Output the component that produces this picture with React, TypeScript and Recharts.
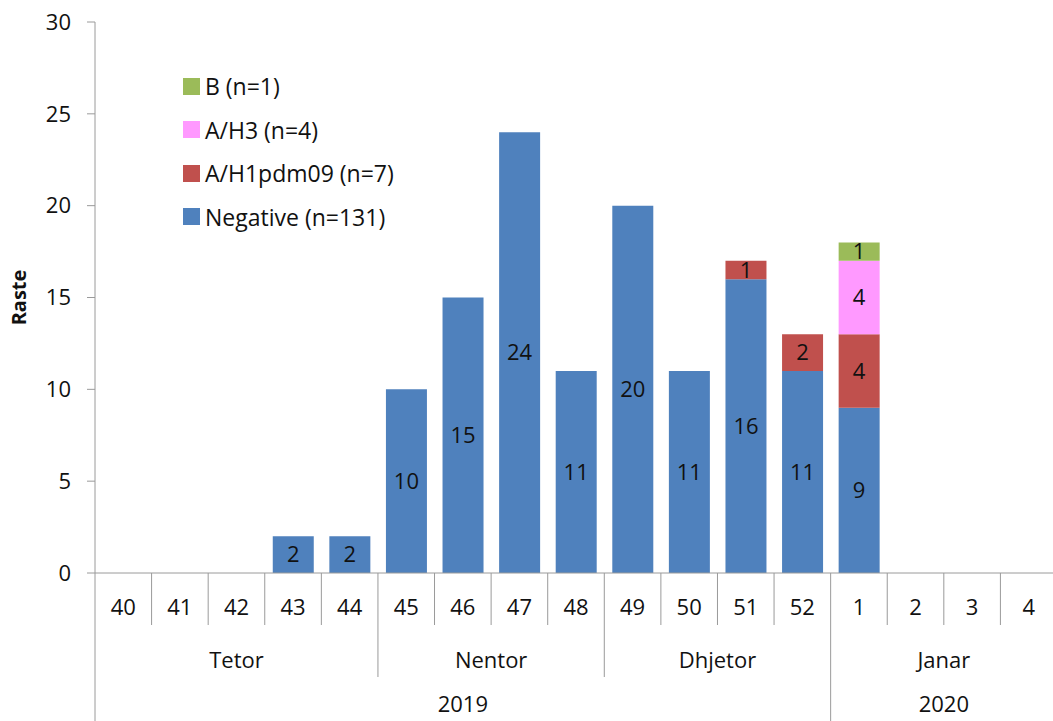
import React from 'react';
import { BarChart, Bar, XAxis, YAxis, LabelList } from 'recharts';

const weeks = ['40', '41', '42', '43', '44', '45', '46', '47', '48', '49', '50', '51', '52', '1', '2', '3', '4'];
const months = ['Tetor', 'Tetor', 'Tetor', 'Tetor', 'Tetor', 'Nentor', 'Nentor', 'Nentor', 'Nentor', 'Dhjetor', 'Dhjetor', 'Dhjetor', 'Dhjetor', 'Janar', 'Janar', 'Janar', 'Janar'];
const years = ['2019', '2019', '2019', '2019', '2019', '2019', '2019', '2019', '2019', '2019', '2019', '2019', '2019', '2020', '2020', '2020', '2020'];

const negative = [null, null, null, 2, 2, 10, 15, 24, 11, 20, 11, 16, 11, 9, null, null, null];
const h1pdm09 = [null, null, null, null, null, null, null, null, null, null, null, 1, 2, 4, null, null, null];
const h3 = [null, null, null, null, null, null, null, null, null, null, null, null, null, 4, null, null, null];
const bType = [null, null, null, null, null, null, null, null, null, null, null, null, null, 1, null, null, null];

const yTicks = [0, 5, 10, 15, 20, 25, 30];

const series = [
  { key: 'negative', name: 'Negative (n=131)', color: '#4F81BD' },
  { key: 'h1', name: 'A/H1pdm09 (n=7)', color: '#C0504D' },
  { key: 'h3', name: 'A/H3 (n=4)', color: '#FF99FF' },
  { key: 'b', name: 'B (n=1)', color: '#9BBB59' },
];

const data = weeks.map((w, i) => ({
  week: w,
  negative: negative[i],
  h1: h1pdm09[i],
  h3: h3[i],
  b: bType[i],
}));

const FONT = "'Open Sans', sans-serif";
const TEXT = '#111';
const GRID = '#9a9a9a';

const countRun = (arr: string[], start: number) => {
  let n = 0;
  while (start + n < arr.length && arr[start + n] === arr[start]) n++;
  return n;
};

const WeekTick = (props: any) => {
  const { x, y, payload } = props;
  const i: number = payload.index;
  const bw: number = (payload.offset || 0) * 2;
  const left = x - bw / 2;
  const yearStart = i === 0 || years[i] !== years[i - 1];
  const monthStart = i === 0 || months[i] !== months[i - 1];
  const len = yearStart ? 148 : monthStart ? 104 : 52;
  const isLast = i === weeks.length - 1;
  return (
    <g>
      <line x1={left} x2={left} y1={y} y2={y + len} stroke={GRID} strokeWidth={1} />
      {isLast && <line x1={left + bw} x2={left + bw} y1={y} y2={y + 148} stroke={GRID} strokeWidth={1} />}
      <text x={x} y={y + 34} dy="0.36em" textAnchor="middle" fontSize={22} fill={TEXT} fontFamily={FONT}>
        {payload.value}
      </text>
      {monthStart && (
        <text x={left + (countRun(months, i) * bw) / 2} y={y + 87} dy="0.36em" textAnchor="middle" fontSize={22} fill={TEXT} fontFamily={FONT}>
          {months[i]}
        </text>
      )}
      {yearStart && (
        <text x={left + (countRun(years, i) * bw) / 2} y={y + 131} dy="0.36em" textAnchor="middle" fontSize={22} fill={TEXT} fontFamily={FONT}>
          {years[i]}
        </text>
      )}
    </g>
  );
};

const fmt = (v: any) => (v ? v : '');

export default function App() {
  const legendItems = [...series].reverse();
  return (
    <div style={{ position: 'fixed', left: 0, top: 0, width: 1053, height: 721, overflow: 'hidden', background: '#fff', fontFamily: FONT }}>
      <BarChart width={1057} height={721} data={data} margin={{ top: 22, right: 0, bottom: 0, left: 0 }} barSize={41}>
        <XAxis
          dataKey="week"
          height={148}
          interval={0}
          tickSize={0}
          tickMargin={0}
          axisLine={{ stroke: GRID }}
          tickLine={false}
          tick={<WeekTick />}
        />
        <YAxis
          width={95}
          domain={[0, 30]}
          ticks={yTicks}
          interval={0}
          tickSize={8}
          tickMargin={16}
          axisLine={{ stroke: GRID }}
          tickLine={{ stroke: GRID }}
          tick={{ fontSize: 22, fill: TEXT, fontFamily: FONT }}
          label={{ value: 'Raste', angle: -90, position: 'center', dx: -29, style: { fontSize: 20, fontWeight: 700, fill: TEXT, fontFamily: FONT } }}
        />
        {series.map((s) => (
          <Bar key={s.key} dataKey={s.key} name={s.name} stackId="a" fill={s.color} isAnimationActive={false}>
            <LabelList dataKey={s.key} position="center" formatter={fmt} style={{ fontSize: 22, fill: TEXT, fontFamily: FONT }} />
          </Bar>
        ))}
      </BarChart>
      {legendItems.map((s, i) => (
        <div
          key={s.key}
          style={{ position: 'absolute', left: 183, top: 72 + i * 43.5, height: 28, display: 'flex', alignItems: 'center', fontSize: 23, color: TEXT, whiteSpace: 'nowrap' }}
        >
          <span style={{ display: 'inline-block', width: 17, height: 17, background: s.color, marginRight: 5 }} />
          <span>{s.name}</span>
        </div>
      ))}
    </div>
  );
}
